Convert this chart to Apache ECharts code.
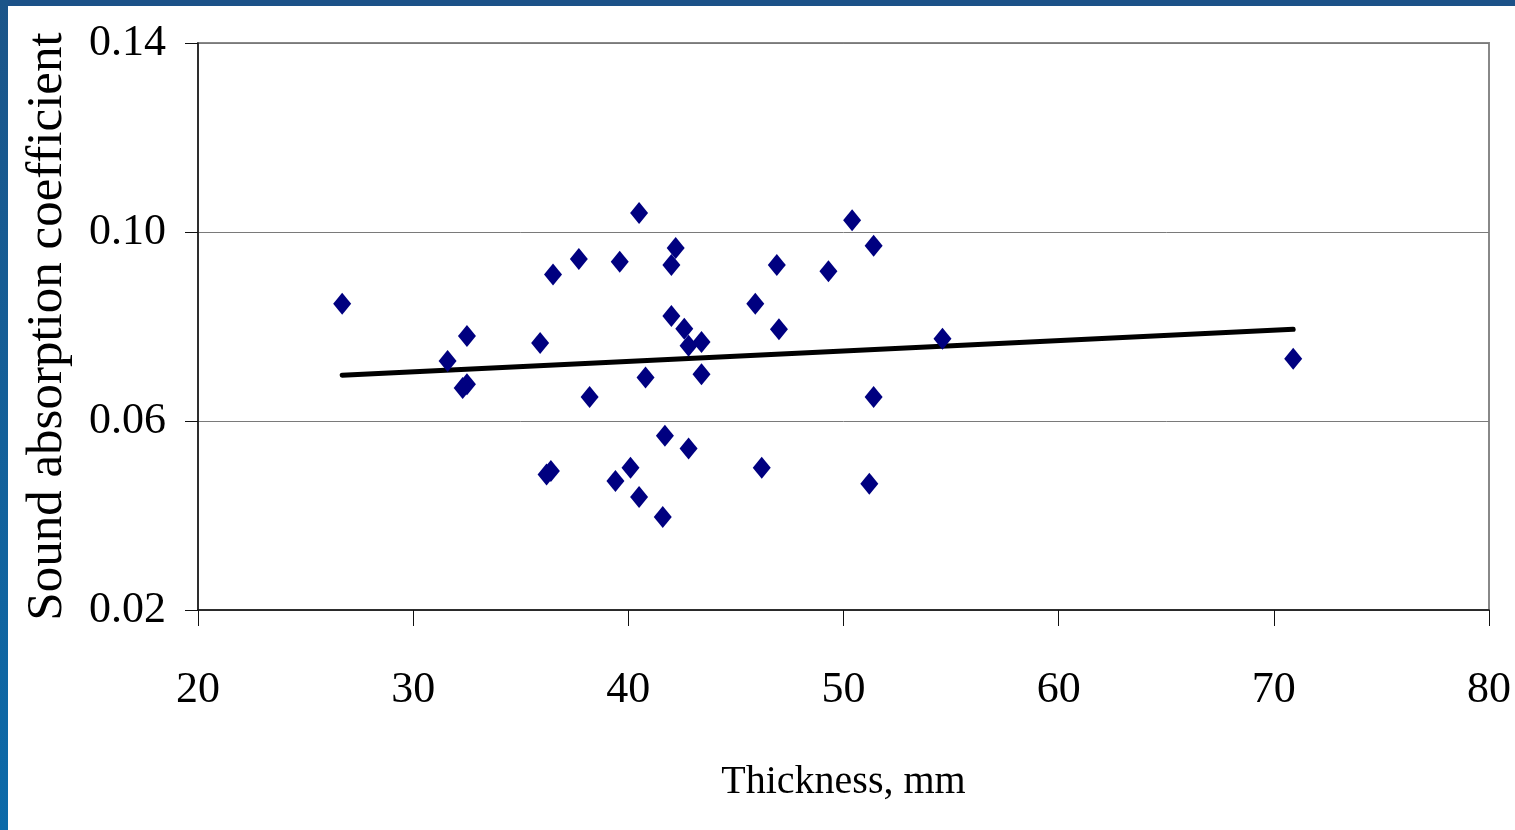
<!DOCTYPE html>
<html>
<head>
<meta charset="utf-8">
<script src="https://cdn.jsdelivr.net/npm/echarts@6/dist/echarts.min.js"></script>
<style>
  html, body { margin: 0; padding: 0; background: #ffffff; }
  #chart { width: 1515px; height: 830px; position: relative; }
  #topbar { position: absolute; left: 0; top: 0; width: 1515px; height: 6px; background: #1c5288; z-index: 5; }
  #leftbar { position: absolute; left: 0; top: 0; width: 8px; height: 830px; background: linear-gradient(#1b5589, #0c6aa9); z-index: 5; }
</style>
</head>
<body>
<div id="topbar"></div>
<div id="leftbar"></div>
<div id="chart"></div>
<script>
// Thickness (mm) of each sample
var thickness = [26.7, 31.6, 32.5, 32.3, 32.5, 35.9, 36.5, 37.7, 39.6, 40.5,
                 42.2, 42.0, 42.0, 42.6, 42.8, 43.4, 43.4, 40.8, 38.2, 41.7,
                 42.8, 36.2, 36.4, 40.1, 39.4, 40.5, 41.6, 50.4, 51.4, 46.9,
                 49.3, 45.9, 47.0, 54.6, 51.4, 46.2, 51.2, 70.9];
// Sound absorption coefficient of each sample
var absorption = [0.0848, 0.0727, 0.0780, 0.0670, 0.0678, 0.0765, 0.0910, 0.0943, 0.0937, 0.1040,
                  0.0966, 0.0930, 0.0822, 0.0795, 0.0759, 0.0767, 0.0699, 0.0692, 0.0651, 0.0569,
                  0.0542, 0.0487, 0.0494, 0.0501, 0.0473, 0.0439, 0.0397, 0.1025, 0.0971, 0.0930,
                  0.0917, 0.0848, 0.0794, 0.0774, 0.0651, 0.0501, 0.0467, 0.0732];
// Linear trend line end points
var trendX = [26.7, 70.9];
var trendY = [0.0697, 0.0794];
// Axis ticks
var xTicks = [20, 30, 40, 50, 60, 70, 80];
var yTicks = [0.02, 0.06, 0.10, 0.14];

var points = thickness.map(function (x, i) { return [x, absorption[i]]; });
var trend = trendX.map(function (x, i) { return [x, trendY[i]]; });

var font = '"Liberation Serif", "Times New Roman", serif';
var chart = echarts.init(document.getElementById('chart'), null, { renderer: 'canvas' });
chart.setOption({
  backgroundColor: '#ffffff',
  animation: false,
  grid: {
    left: 198, right: 26, top: 43, bottom: 220,
    show: true, borderColor: '#888888', borderWidth: 2, backgroundColor: 'transparent'
  },
  xAxis: {
    type: 'value',
    min: xTicks[0], max: xTicks[xTicks.length - 1], interval: 10,
    name: 'Thickness, mm',
    nameLocation: 'middle',
    nameGap: 152,
    nameTextStyle: { fontFamily: font, fontSize: 40, color: '#000' },
    axisLine: { show: true, onZero: false, lineStyle: { color: '#111', width: 1.5 } },
    axisTick: { show: true, length: 16, lineStyle: { color: '#111', width: 1 } },
    axisLabel: { fontFamily: font, fontSize: 44, color: '#000', margin: 58 },
    splitLine: { show: false }
  },
  yAxis: {
    type: 'value',
    min: yTicks[0], max: yTicks[yTicks.length - 1], interval: 0.04,
    name: 'Sound absorption coefficient',
    nameLocation: 'middle',
    nameGap: 125,
    nameTextStyle: { fontFamily: font, fontSize: 51, color: '#000' },
    axisLine: { show: true, onZero: false, lineStyle: { color: '#111', width: 1.5 } },
    axisTick: { show: true, length: 13, lineStyle: { color: '#111', width: 1 } },
    axisLabel: {
      fontFamily: font, fontSize: 44, color: '#000', margin: 32,
      formatter: function (v) { return v.toFixed(2); }
    },
    splitLine: { show: true, lineStyle: { color: '#7a7a7a', width: 1 } }
  },
  series: [
    {
      type: 'line',
      data: trend,
      symbol: 'none',
      lineStyle: { color: '#000000', width: 5, cap: 'round' },
      z: 2
    },
    {
      type: 'scatter',
      data: points,
      symbol: 'diamond',
      symbolSize: [18, 22],
      itemStyle: { color: '#000080', opacity: 1 },
      z: 3
    }
  ]
});
</script>
</body>
</html>
